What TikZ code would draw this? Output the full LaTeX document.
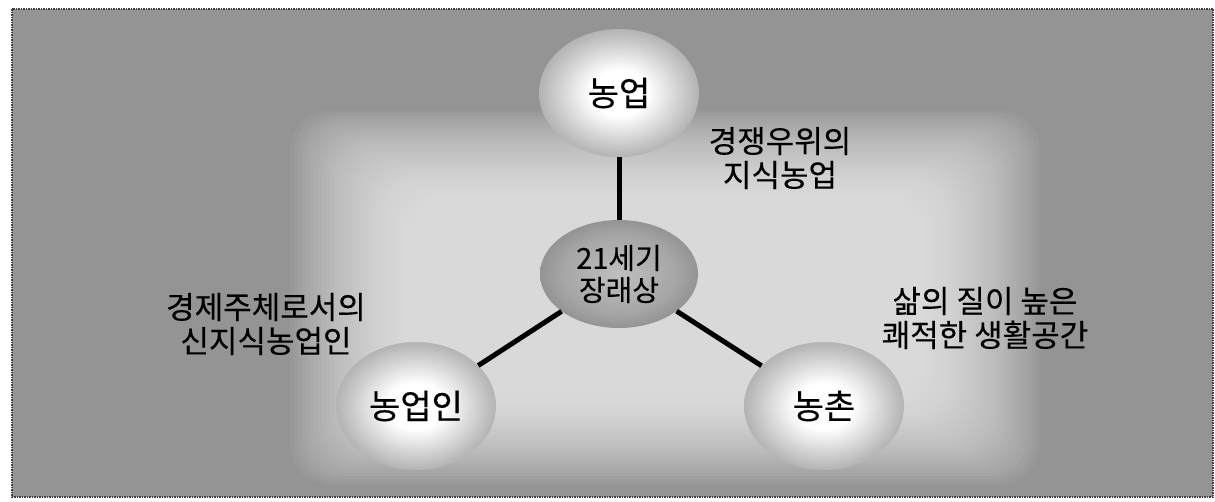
\documentclass[tikz,border=0pt]{standalone}
\usepackage{fontspec}
\setmainfont{Noto Sans CJK KR}[FakeBold=0.3]
\usetikzlibrary{shapes.geometric}

% light spot in the middle, grey rim
\pgfdeclareradialshading{orb}{\pgfpoint{0bp}{0bp}}{%
  color(0bp)=(white); color(9bp)=(white); color(24bp)=(black!28);
  color(42bp)=(black!52); color(50bp)=(black!46)}
\pgfdeclareradialshading{orb core}{\pgfpoint{0bp}{0bp}}{%
  color(0bp)=(black!25); color(18bp)=(black!35); color(40bp)=(black!57);
  color(50bp)=(black!50)}

\begin{document}
\begin{tikzpicture}[
  x=1pt, y=-1pt,
  basic ball/.style={
    ellipse,
    shading=orb,
    minimum width=160pt,
    minimum height=128pt,
    inner sep=0pt,
    font=\fontsize{34}{40}\selectfont
  },
  core ball/.style={
    basic ball,
    shading=orb core,
    minimum width=158pt,
    minimum height=108pt,
    align=center,
    font=\fontsize{29}{32}\selectfont
  },
  caption text/.style={
    align=center,
    font=\fontsize{31}{34}\selectfont
  },
  thick link/.style={
    draw=black,
    line width=5pt
  }
]
\useasboundingbox (0,0) rectangle (1215,501);
\fill[black!42] (12,9) rectangle (1213,497);
% soft bright area behind the diagram
\foreach \i in {0,...,29}
  \fill[white, opacity=0.045, rounded corners=40pt]
    (290+\i*4, 110+\i*3) rectangle (1040-\i*4, 485-\i*3);
\draw[densely dotted, line width=1.5pt, black!75] (12,9) rectangle (1213,497);

\node[basic ball] (agri) at (619,93) {농업};
\node[core ball] (future) at (619,274) {21세기\\장래상};
\node[basic ball] (farmer) at (416,406) {농업인};
\node[basic ball] (village) at (824,406) {농촌};

\draw[thick link] (agri) -- (future);
\draw[thick link] (future) -- (farmer);
\draw[thick link] (future) -- (village);

\node[caption text] (agri note) at (780,158) {경쟁우위의\\지식농업};
\node[caption text] (farmer note) at (266,324) {경제주체로서의\\신지식농업인};
\node[caption text] (village note) at (985,318) {삶의 질이 높은\\쾌적한 생활공간};
\end{tikzpicture}
\end{document}
